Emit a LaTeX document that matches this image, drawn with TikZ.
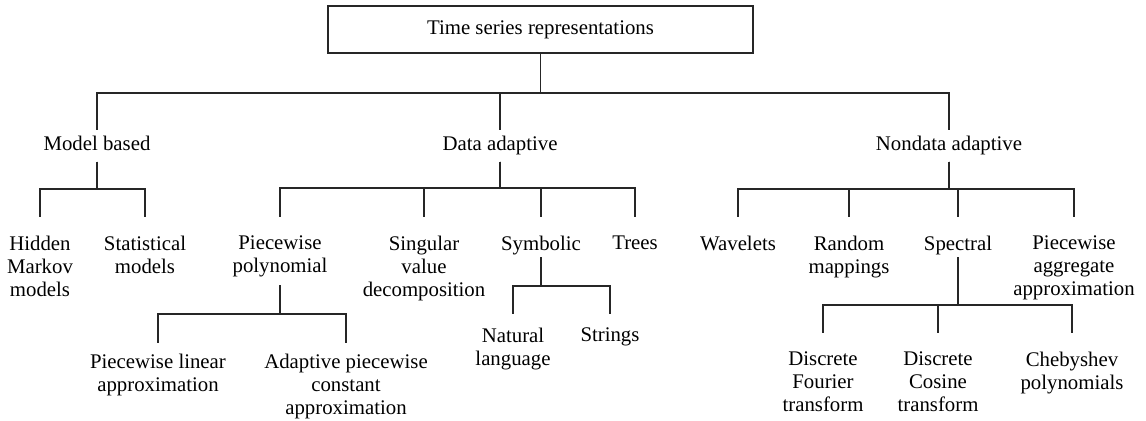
\documentclass[tikz,border=0pt]{standalone}
\usepackage{fontspec}
\setmainfont{Liberation Serif}
\begin{document}
\begin{tikzpicture}[x=0.5pt,y=-0.5pt,line width=0.6pt,draw=black!85,
  every node/.style={font=\fontsize{10.4}{11.5}\selectfont,align=center,inner xsep=0pt},
  head/.style={text height=7pt,text depth=2pt,inner ysep=3pt},
  leaf/.style={anchor=north,inner ysep=9pt}]
\useasboundingbox (0,0) rectangle (1146,421);
% root and first level
\node[draw,minimum width=212.5pt,minimum height=23.5pt] (root) at (540.5,29.5) {Time series representations};
\node[head] (model) at (97,146) {Model based};
\node[head] (data) at (500,146) {Data adaptive};
\node[head] (nondata) at (949,146) {Nondata adaptive};
% second level
\node[leaf] (hmm) at (40,217) {Hidden\\Markov\\models};
\node[leaf] (stat) at (145,217) {Statistical\\models};
\node[leaf] (pp) at (280,217) {Piecewise\\polynomial};
\node[leaf] (svd) at (424,217) {Singular\\value\\decomposition};
\node[leaf] (sym) at (541,217) {Symbolic};
\node[leaf] (trees) at (635,217) {Trees};
\node[leaf] (wav) at (738,217) {Wavelets};
\node[leaf] (rnd) at (849,217) {Random\\mappings};
\node[leaf] (spec) at (958,217) {Spectral};
\node[leaf] (paa) at (1074,217) {Piecewise\\aggregate\\approximation};
% third level
\node[leaf] (pla) at (158,335) {Piecewise linear\\approximation};
\node[leaf] (apc) at (346,335) {Adaptive piecewise\\constant\\approximation};
\node[leaf] (nat) at (513,309) {Natural\\language};
\node[leaf] (str) at (610,309) {Strings};
\node[leaf] (dft) at (823,333) {Discrete\\Fourier\\transform};
\node[leaf] (dct) at (938,333) {Discrete\\Cosine\\transform};
\node[leaf] (cheb) at (1072,333) {Chebyshev\\polynomials};
% bar heights
\coordinate (b0) at (0,93);
\coordinate (b1) at (0,189);
\coordinate (b2) at (0,188);
\coordinate (b3) at (0,189);
\coordinate (b4) at (0,314);
\coordinate (b5) at (0,286);
\coordinate (b6) at (0,305);
% connectors
\foreach \k in {model,data,nondata}
  \draw (root.south) |- (b0 -| \k.north) -- (\k.north);
\foreach \k in {hmm,stat}
  \draw (model.south) |- (b1 -| \k.north) -- (\k.north);
\foreach \k in {pp,svd,sym,trees}
  \draw (data.south) |- (b2 -| \k.north) -- (\k.north);
\foreach \k in {wav,rnd,spec,paa}
  \draw (nondata.south) |- (b3 -| \k.north) -- (\k.north);
\foreach \k in {pla,apc}
  \draw[shorten <=-5pt,shorten >=-4pt] (pp.south) |- (b4 -| \k.north) -- (\k.north);
\foreach \k in {nat,str}
  \draw[shorten <=-8pt,shorten >=-2.5pt] (sym.south) |- (b5 -| \k.north) -- (\k.north);
\foreach \k in {dft,dct,cheb}
  \draw[shorten <=-8pt] (spec.south) |- (b6 -| \k.north) -- (\k.north);
\end{tikzpicture}
\end{document}
